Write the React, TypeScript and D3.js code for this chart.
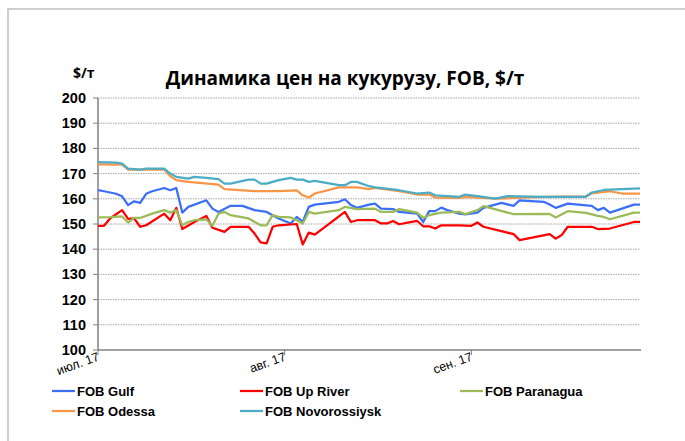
import React from 'react';
import * as d3 from 'd3';

// series: [date, $/t]
const gulf: [string, number][] = [
  ['2017-07-01', 163.4], ['2017-07-02', 163], ['2017-07-04', 162], ['2017-07-05', 161],
  ['2017-07-06', 157.5], ['2017-07-07', 159], ['2017-07-08', 158.4], ['2017-07-09', 162],
  ['2017-07-10', 163], ['2017-07-12', 164.3], ['2017-07-13', 163.4], ['2017-07-14', 164.3],
  ['2017-07-15', 154.5], ['2017-07-16', 156.8], ['2017-07-19', 159.4], ['2017-07-20', 156.1],
  ['2017-07-21', 154.8], ['2017-07-23', 157.2], ['2017-07-25', 157.2], ['2017-07-27', 155.5],
  ['2017-07-29', 154.8], ['2017-07-31', 152.2], ['2017-08-02', 150.2], ['2017-08-03', 152.8],
  ['2017-08-04', 150.8], ['2017-08-05', 156.8], ['2017-08-06', 157.7], ['2017-08-10', 158.8],
  ['2017-08-11', 159.8], ['2017-08-12', 157.5], ['2017-08-13', 156.4], ['2017-08-15', 157.7],
  ['2017-08-16', 158.1], ['2017-08-17', 156.1], ['2017-08-19', 155.9], ['2017-08-20', 154.8],
  ['2017-08-23', 154.1], ['2017-08-24', 150.8], ['2017-08-25', 155.1], ['2017-08-26', 155.1],
  ['2017-08-27', 156.5], ['2017-08-28', 155.5], ['2017-08-30', 154.1], ['2017-08-31', 153.8],
  ['2017-09-02', 154.5], ['2017-09-03', 156.4], ['2017-09-06', 158.4], ['2017-09-08', 157.2],
  ['2017-09-09', 159.4], ['2017-09-13', 158.8], ['2017-09-14', 157.7], ['2017-09-15', 156.4],
  ['2017-09-17', 158.1], ['2017-09-21', 157.2], ['2017-09-22', 155.5], ['2017-09-23', 156.4],
  ['2017-09-24', 154.5], ['2017-09-28', 157.7], ['2017-09-29', 157.7],
];

const upRiver: [string, number][] = [
  ['2017-07-01', 149.3], ['2017-07-02', 149.3], ['2017-07-03', 152.2], ['2017-07-05', 155.5],
  ['2017-07-06', 152], ['2017-07-07', 152.2], ['2017-07-08', 148.9], ['2017-07-09', 149.5],
  ['2017-07-12', 154.1], ['2017-07-13', 151.5], ['2017-07-14', 156.4], ['2017-07-15', 148],
  ['2017-07-17', 150.8], ['2017-07-19', 153.2], ['2017-07-20', 148.5], ['2017-07-22', 146.9],
  ['2017-07-23', 148.9], ['2017-07-26', 148.9], ['2017-07-27', 146.2], ['2017-07-28', 142.7],
  ['2017-07-29', 142.3], ['2017-07-30', 148.9], ['2017-07-31', 149.5], ['2017-08-03', 150],
  ['2017-08-04', 141.9], ['2017-08-05', 146.6], ['2017-08-06', 145.8], ['2017-08-11', 154.8],
  ['2017-08-12', 150.8], ['2017-08-13', 151.5], ['2017-08-16', 151.5], ['2017-08-17', 150.2],
  ['2017-08-18', 150.2], ['2017-08-19', 151.2], ['2017-08-20', 149.9], ['2017-08-23', 151.2],
  ['2017-08-24', 149.1], ['2017-08-25', 149.1], ['2017-08-26', 148.2], ['2017-08-27', 149.5],
  ['2017-08-30', 149.5], ['2017-09-01', 149.3], ['2017-09-02', 150.6], ['2017-09-03', 148.9],
  ['2017-09-08', 146], ['2017-09-09', 143.6], ['2017-09-14', 146], ['2017-09-15', 144.2],
  ['2017-09-16', 145.6], ['2017-09-17', 148.9], ['2017-09-21', 148.9], ['2017-09-22', 148],
  ['2017-09-24', 148.2], ['2017-09-28', 150.8], ['2017-09-29', 150.8],
];

const paranagua: [string, number][] = [
  ['2017-07-01', 152.6], ['2017-07-03', 152.7], ['2017-07-05', 153], ['2017-07-06', 150.6],
  ['2017-07-07', 152.4], ['2017-07-08', 152.4], ['2017-07-10', 154.1], ['2017-07-12', 155.5],
  ['2017-07-13', 154.5], ['2017-07-14', 155.5], ['2017-07-15', 149.5], ['2017-07-16', 150.8],
  ['2017-07-17', 151.5], ['2017-07-19', 151.8], ['2017-07-20', 149.3], ['2017-07-21', 154.1],
  ['2017-07-22', 154.8], ['2017-07-23', 153.5], ['2017-07-26', 152.2], ['2017-07-28', 149.5],
  ['2017-07-29', 149.5], ['2017-07-30', 153.5], ['2017-07-31', 152.8], ['2017-08-02', 152.6],
  ['2017-08-03', 151.5], ['2017-08-04', 150.2], ['2017-08-05', 154.8], ['2017-08-06', 154.1],
  ['2017-08-10', 155.5], ['2017-08-11', 156.8], ['2017-08-13', 155.9], ['2017-08-16', 156.1],
  ['2017-08-17', 154.8], ['2017-08-19', 154.8], ['2017-08-20', 155.9], ['2017-08-23', 154.5],
  ['2017-08-24', 152.4], ['2017-08-25', 153.5], ['2017-08-27', 154.5], ['2017-08-30', 154.8],
  ['2017-08-31', 153.9], ['2017-09-02', 155.5], ['2017-09-03', 157.1], ['2017-09-08', 153.9],
  ['2017-09-14', 154], ['2017-09-15', 152.6], ['2017-09-17', 155.1], ['2017-09-20', 154.4],
  ['2017-09-22', 153.2], ['2017-09-23', 152.8], ['2017-09-24', 151.9], ['2017-09-28', 154.5],
  ['2017-09-29', 154.5],
];

const odessa: [string, number][] = [
  ['2017-07-01', 173.7], ['2017-07-05', 173.6], ['2017-07-06', 171.6], ['2017-07-12', 171.6],
  ['2017-07-13', 169], ['2017-07-14', 167.4], ['2017-07-16', 166.7], ['2017-07-21', 165.6],
  ['2017-07-22', 163.8], ['2017-07-27', 163], ['2017-07-31', 163], ['2017-08-03', 163.3],
  ['2017-08-04', 161.4], ['2017-08-05', 160.5], ['2017-08-06', 162.1], ['2017-08-10', 164.5],
  ['2017-08-13', 164.5], ['2017-08-15', 163.8], ['2017-08-16', 164.3], ['2017-08-20', 163],
  ['2017-08-23', 161.7], ['2017-08-25', 161.7], ['2017-08-26', 160.5], ['2017-08-30', 160.4],
  ['2017-08-31', 160.8], ['2017-09-05', 160.1], ['2017-09-13', 160.8], ['2017-09-20', 161],
  ['2017-09-21', 162.1], ['2017-09-24', 163], ['2017-09-26', 162.1], ['2017-09-29', 162.1],
];

const novorossiysk: [string, number][] = [
  ['2017-07-01', 174.6], ['2017-07-04', 174.4], ['2017-07-05', 174], ['2017-07-06', 172],
  ['2017-07-08', 171.6], ['2017-07-09', 172], ['2017-07-12', 172], ['2017-07-13', 170],
  ['2017-07-14', 168.7], ['2017-07-16', 168], ['2017-07-17', 168.7], ['2017-07-19', 168.3],
  ['2017-07-21', 167.8], ['2017-07-22', 166], ['2017-07-23', 166], ['2017-07-26', 167.6],
  ['2017-07-27', 167.6], ['2017-07-28', 166], ['2017-07-29', 166], ['2017-07-31', 167.4],
  ['2017-08-02', 168.3], ['2017-08-03', 167.6], ['2017-08-04', 167.6], ['2017-08-05', 166.7],
  ['2017-08-06', 167.1], ['2017-08-10', 165.4], ['2017-08-11', 165.4], ['2017-08-12', 166.7],
  ['2017-08-13', 166.7], ['2017-08-15', 165], ['2017-08-16', 164.5], ['2017-08-20', 163.4],
  ['2017-08-23', 162.1], ['2017-08-25', 162.5], ['2017-08-26', 161.4], ['2017-08-30', 160.8],
  ['2017-08-31', 161.7], ['2017-09-02', 161.1], ['2017-09-05', 160.1], ['2017-09-07', 161.1],
  ['2017-09-13', 160.8], ['2017-09-20', 160.8], ['2017-09-21', 162.5], ['2017-09-23', 163.5],
  ['2017-09-29', 164.1],
];

const yTicks = [100, 110, 120, 130, 140, 150, 160, 170, 180, 190, 200];
const monthTicks = ['2017-07-01', '2017-08-01', '2017-09-01'];
const monthLabels = ['июл. 17', 'авг. 17', 'сен. 17'];

const series = [
  { name: 'FOB Gulf', color: '#3a6ff7', data: gulf },
  { name: 'FOB Up River', color: '#ff0000', data: upRiver },
  { name: 'FOB Paranagua', color: '#9bbb59', data: paranagua },
  { name: 'FOB Odessa', color: '#f79646', data: odessa },
  { name: 'FOB Novorossiysk', color: '#4bacc6', data: novorossiysk },
];

const parse = d3.timeParse('%Y-%m-%d');

export default function App() {
  const W = 685;
  const H = 441;
  const left = 98, right = 640, top = 98, bottom = 350;

  const x = d3.scaleTime()
    .domain([parse('2017-07-01')!, parse('2017-09-29')!])
    .range([left, right]);
  const y = d3.scaleLinear().domain([100, 200]).range([bottom, top]);

  const line = d3.line<[string, number]>()
    .x(d => x(parse(d[0])!))
    .y(d => y(d[1]));

  const axisFont = 'Liberation Sans, Arial, sans-serif';

  return (
    <svg width={W} height={H} style={{ position: 'absolute', left: 0, top: 0, background: '#fff' }}>
      <rect x={0} y={0} width={W} height={H} fill="#fff" />
      <rect x={8} y={9} width={700} height={460} fill="#fff" stroke="#bfbfbf" strokeWidth={1.5} />

      <text x={73} y={78} fontFamily="Open Sans, sans-serif" fontWeight="bold" fontSize={14}>$/т</text>
      <text x={345} y={85} textAnchor="middle" fontFamily="Open Sans, sans-serif" fontWeight="bold" fontSize={19}>
        Динамика цен на кукурузу, FOB, $/т
      </text>

      {/* grid */}
      {yTicks.filter(t => t > 100).map(t => (
        <line key={t} x1={left} x2={right} y1={y(t)} y2={y(t)} stroke="#a6a6a6" strokeWidth={1} strokeDasharray="1.5,1" />
      ))}

      {/* y axis */}
      <line x1={left} x2={left} y1={top} y2={bottom} stroke="#808080" strokeWidth={1.5} />
      {yTicks.map(t => (
        <g key={t}>
          <line x1={left - 5} x2={left} y1={y(t)} y2={y(t)} stroke="#808080" strokeWidth={1} />
          <text x={86} y={y(t) + 5} textAnchor="end" fontFamily={axisFont} fontWeight="bold" fontSize={14.5}>{t}</text>
        </g>
      ))}

      {/* x axis */}
      <line x1={left} x2={right + 1} y1={bottom} y2={bottom} stroke="#808080" strokeWidth={1.5} />
      {monthTicks.map((m, i) => {
        const px = x(parse(m)!);
        return (
          <g key={m}>
            <line x1={px} x2={px} y1={bottom} y2={bottom + 5} stroke="#808080" strokeWidth={1} />
            <text transform={`translate(${px + 2},${bottom + 10}) rotate(-20)`} textAnchor="end"
              fontFamily={axisFont} fontSize={12.5}>{monthLabels[i]}</text>
          </g>
        );
      })}

      {/* lines */}
      {series.map(s => (
        <path key={s.name} d={line(s.data) ?? ''} fill="none" stroke={s.color} strokeWidth={2.25} strokeLinejoin="round" />
      ))}

      {/* legend */}
      {series.map((s, i) => {
        const lx = [52, 240, 460][i % 3];
        const ly = i < 3 ? 391 : 411;
        return (
          <g key={s.name}>
            <line x1={lx} x2={lx + 23} y1={ly} y2={ly} stroke={s.color} strokeWidth={2.25} />
            <text x={lx + 25} y={ly + 5} fontFamily={axisFont} fontWeight="bold" fontSize={13}>{s.name}</text>
          </g>
        );
      })}
    </svg>
  );
}
